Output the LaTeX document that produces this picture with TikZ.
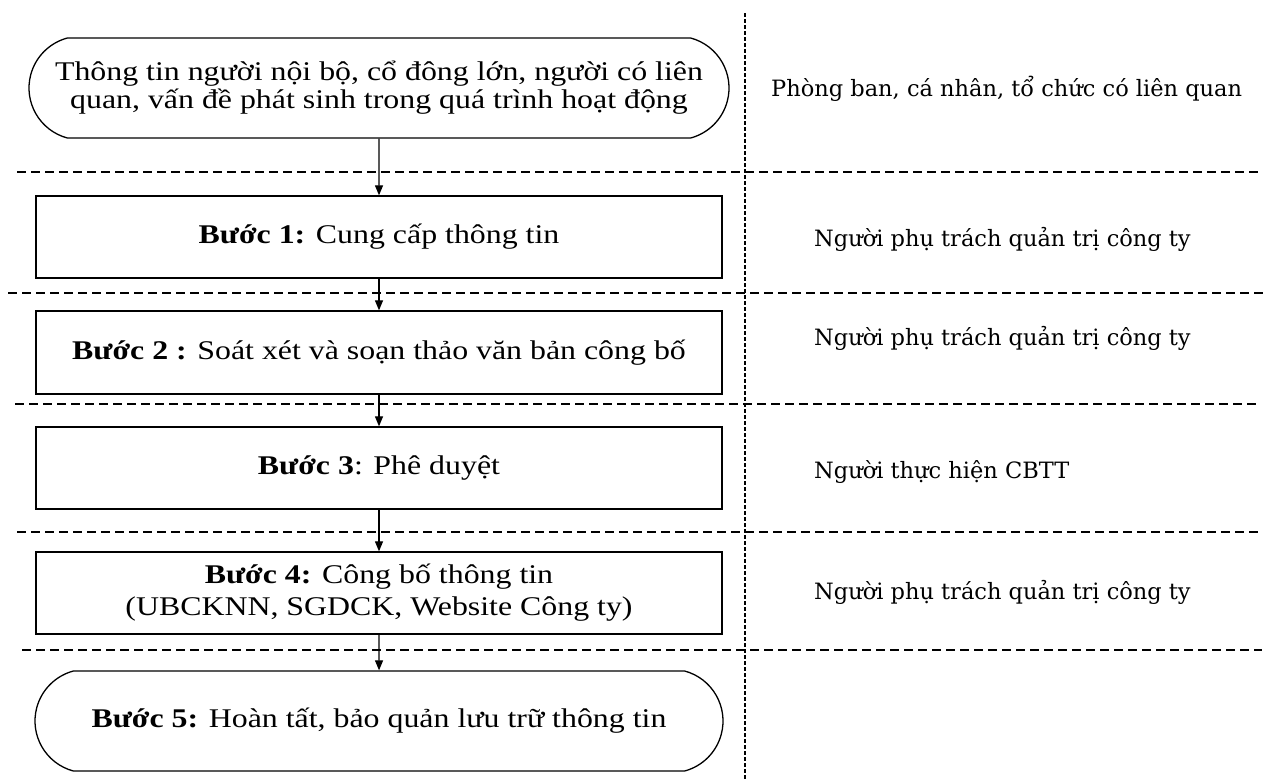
\documentclass[tikz,border=0pt]{standalone}
\usepackage{fontspec}
\setmainfont{Liberation Serif}[FakeStretch=1.18]
\newfontfamily\rfont{DejaVu Serif}
\usetikzlibrary{arrows.meta,shapes.misc}
\tikzset{
  stepbox/.style={draw, line width=1.3pt, minimum width=686pt, minimum height=82pt,
    inner sep=0pt, align=center, font=\fontsize{27}{28}\selectfont},
  termbox/.style={stepbox, rounded rectangle, rounded rectangle arc length=150,
    minimum width=700pt, minimum height=100pt},
  sepline/.style={line width=1.3pt, dash pattern=on 9pt off 5pt},
  laneline/.style={line width=1.3pt, dash pattern=on 4pt off 2pt},
  arr/.style={-{Triangle[length=10pt,width=8pt]}, line width=1.2pt},
  rtxt/.style={font=\rfont\fontsize{22.5}{26}\selectfont, anchor=base west, inner sep=0pt}
}
\begin{document}
\begin{tikzpicture}[x=1pt,y=-1pt]
\useasboundingbox (0,0) rectangle (1274,779);
% separators
\draw[sepline] (17,172) -- (1262,172);
\draw[sepline] (8,293) -- (1265,293);
\draw[sepline] (15,404) -- (1258,404);
\draw[sepline] (17,532) -- (1262,532);
\draw[sepline] (22,650) -- (1262,650);
\draw[laneline] (745,13) -- (745,779);
% boxes
\node[termbox] (top) at (379,88) {Thông tin người nội bộ, cổ đông lớn, người có liên\\quan, vấn đề phát sinh trong quá trình hoạt động};
\node[stepbox] (b1) at (379,237) {\textbf{Bước 1:} Cung cấp thông tin};
\node[stepbox, minimum height=83pt] (b2) at (379,352.5) {\textbf{Bước 2 :} Soát xét và soạn thảo văn bản công bố};
\node[stepbox] (b3) at (379,468) {\textbf{Bước 3}: Phê duyệt};
\node[stepbox] (b4) at (379,593) {\textbf{Bước 4:} Công bố thông tin\\[4pt](UBCKNN, SGDCK, Website Công ty)};
\node[termbox, minimum width=688pt] (b5) at (379,721) {\textbf{Bước 5:} Hoàn tất, bảo quản lưu trữ thông tin};
% arrows
\draw[arr] (top) -- (b1);
\draw[arr] (b1) -- (b2);
\draw[arr] (b2) -- (b3);
\draw[arr] (b3) -- (b4);
\draw[arr] (b4) -- (b5);
% right column
\node[rtxt] (r0) at (771,96) {Phòng ban, cá nhân, tổ chức có liên quan};
\node[rtxt] (r1) at (814,246) {Người phụ trách quản trị công ty};
\node[rtxt] (r2) at (814,345) {Người phụ trách quản trị công ty};
\node[rtxt] (r3) at (814,478) {Người thực hiện CBTT};
\node[rtxt] (r4) at (814,599) {Người phụ trách quản trị công ty};
\end{tikzpicture}
\end{document}
